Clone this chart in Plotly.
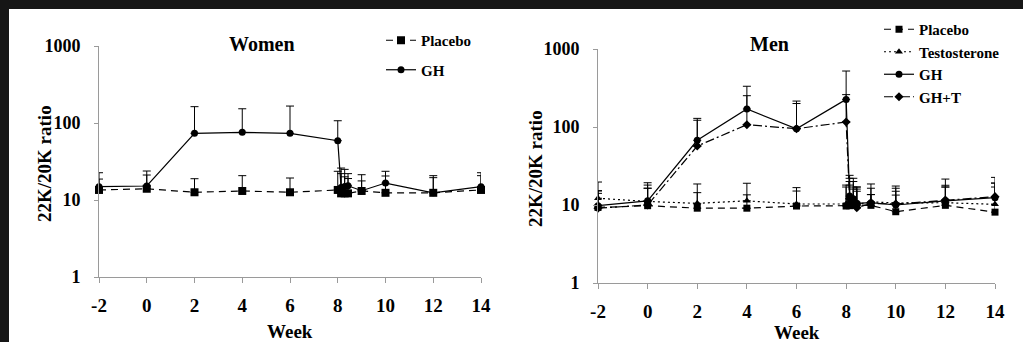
import plotly.graph_objects as go

# ---------------- data ----------------
weeks = [-2, 0, 2, 4, 6, 8, 8.14, 8.29, 8.43, 9, 10, 12, 14]
x_ticks = [-2, 0, 2, 4, 6, 8, 10, 12, 14]
x_ticktext = ["-2", "0", "2", "4", "6", "8", "10", "12", "14"]
y_ticks = [1, 10, 100, 1000]
y_ticktext = ["1", "10", "100", "1000"]

women_placebo = [13.5, 14.0, 12.6, 13.1, 12.6, 13.5, 12.2, 12.2, 12.2, 13.1, 12.4, 12.4, 13.5]
women_placebo_upper = [18.7, 21.1, 18.9, 20.7, 19.3, 23.6, 22.0, 20.0, 19.0, 17.7, 20.5, 19.5, 20.7]
women_gh = [14.9, 15.2, 73.5, 75.7, 73.5, 58.9, 14.5, 15.0, 15.3, 13.2, 16.6, 12.4, 14.9]
women_gh_upper = [22.6, 23.8, 163, 153, 166, 107, 26.0, 25.0, 22.0, 21.3, 23.6, 20.7, 22.6]

men_placebo = [9.3, 9.8, 9.1, 9.1, 9.7, 9.7, 9.8, 10.0, 10.0, 9.9, 8.2, 9.9, 8.1]
men_placebo_upper = [14.1, 16.4, 14.4, 13.5, 15.1, 17.0, 18.0, 16.0, 15.0, 13.6, 13.4, 17.0, 17.0]
men_testo = [12.2, 11.1, 10.5, 11.3, 10.3, 10.3, 11.0, 10.5, 10.2, 11.0, 10.6, 10.7, 10.2]
men_testo_upper = [15.3, 18.0, 18.6, 19.0, 16.7, 18.0, 20.0, 17.0, 16.0, 16.4, 15.0, 17.9, 19.1]
men_gh = [9.8, 11.3, 67.5, 170, 95, 226, 13.0, 12.0, 10.5, 10.7, 10.0, 11.3, 12.4]
men_gh_upper = [19.7, 19.3, 129, 333, 215, 522, 24.0, 22.0, 17.0, 18.6, 17.5, 21.5, 22.6]
men_ght = [9.1, 10.0, 57, 107, 95, 116, 12.0, 11.0, 9.2, 10.5, 10.3, 11.6, 12.8]
men_ght_upper = [15.1, 16.4, 122, 252, 200, 260, 22.0, 20.0, 17.0, 13.6, 16.4, 17.0, 19.1]

FONT = "Liberation Serif"
W, H = 1023, 342


def px_x(p):
    return p / W


def px_y(p):
    return 1 - p / H


def err(vals, upper):
    return dict(type="data", symmetric=False,
                array=[u - v for u, v in zip(upper, vals)],
                arrayminus=[0] * len(vals),
                color="black", thickness=1, width=4)


fig = go.Figure()

series = [
    # (name, y, upper, dash, symbol, size, xaxis, yaxis, legend)
    ("Placebo", women_placebo, women_placebo_upper, "7px,5px", "square", 8, "x", "y", "legend"),
    ("GH", women_gh, women_gh_upper, "solid", "circle", 7, "x", "y", "legend"),
    ("Placebo", men_placebo, men_placebo_upper, "7px,5px", "square", 7, "x2", "y2", "legend2"),
    ("Testosterone", men_testo, men_testo_upper, "2px,3px", "triangle-up", 7, "x2", "y2", "legend2"),
    ("GH", men_gh, men_gh_upper, "solid", "circle", 7, "x2", "y2", "legend2"),
    ("GH+T", men_ght, men_ght_upper, "9px,3px,2px,3px", "diamond", 7, "x2", "y2", "legend2"),
]

for i, (name, yv, up, dash, sym, size, xa, ya, leg) in enumerate(series):
    fig.add_trace(go.Scatter(
        x=weeks, y=yv, name=name, mode="lines+markers",
        line=dict(color="black", width=1.2, dash=dash),
        marker=dict(symbol=sym, size=size, color="black"),
        error_y=err(yv, up),
        xaxis=xa, yaxis=ya, legend=leg, legendgroup=f"g{i}",
        cliponaxis=False,
    ))

base = dict(showline=True, linecolor="#9a9a9a", linewidth=1,
            ticks="outside", tickcolor="#9a9a9a", automargin=False,
            showgrid=False, zeroline=False)
xtf = dict(family=FONT, size=19, color="black", weight="bold")
ytf = dict(family=FONT, size=18, color="black", weight="bold")

fig.update_layout(
    template="none",
    width=W, height=H,
    margin=dict(l=0, r=0, t=0, b=0, pad=0, autoexpand=False),
    paper_bgcolor="#161616",
    plot_bgcolor="white",
    showlegend=True,
    font=dict(family=FONT, color="black", weight="bold"),
    xaxis=dict(domain=[px_x(99), px_x(481)], range=[-2, 14], tickvals=x_ticks,
               ticktext=x_ticktext, ticklen=5, ticklabelstandoff=6, anchor="y",
               tickfont=xtf, **base),
    yaxis=dict(domain=[px_y(277), px_y(46)], type="log", range=[0, 3],
               tickvals=y_ticks, ticktext=y_ticktext, ticklen=4, ticklabelstandoff=10,
               anchor="x", tickfont=ytf, **base),
    xaxis2=dict(domain=[px_x(598), px_x(995)], range=[-2, 14], tickvals=x_ticks,
                ticktext=x_ticktext, ticklen=5, ticklabelstandoff=6, anchor="y2",
                tickfont=xtf, **base),
    yaxis2=dict(domain=[px_y(283), px_y(49)], type="log", range=[0, 3],
                tickvals=y_ticks, ticktext=y_ticktext, ticklen=4, ticklabelstandoff=10,
                anchor="x2", tickfont=ytf, **base),
    legend=dict(x=px_x(381), y=px_y(24), xanchor="left", yanchor="top",
                bgcolor="rgba(0,0,0,0)", borderwidth=0, traceorder="grouped",
                tracegroupgap=7,
                font=dict(family=FONT, size=15, color="black", weight="bold")),
    legend2=dict(x=px_x(879), y=px_y(13), xanchor="left", yanchor="top",
                 bgcolor="rgba(0,0,0,0)", borderwidth=0, traceorder="grouped",
                 tracegroupgap=0,
                 font=dict(family=FONT, size=15, color="black", weight="bold")),
    shapes=[dict(type="rect", xref="paper", yref="paper", layer="below",
                 x0=px_x(9), x1=1, y0=0, y1=px_y(9),
                 fillcolor="white", line=dict(width=0))],
)

ann_font = dict(family=FONT, color="black", weight="bold")
annotations = [
    dict(text="Women", x=px_x(262), y=px_y(44), size=20),
    dict(text="Men", x=px_x(769), y=px_y(44), size=20),
    dict(text="Week", x=px_x(290), y=px_y(331), size=19),
    dict(text="Week", x=px_x(797), y=px_y(332), size=19),
]
for a in annotations:
    fig.add_annotation(text=a["text"], x=a["x"], y=a["y"], xref="paper", yref="paper",
                       xanchor="center", yanchor="middle", showarrow=False,
                       font=dict(size=a["size"], **ann_font))
for xc, yc in [(44, 164), (535, 169)]:
    fig.add_annotation(text="22K/20K ratio", x=px_x(xc), y=px_y(yc), xref="paper", yref="paper",
                       xanchor="center", yanchor="middle", showarrow=False, textangle=-90,
                       font=dict(size=19, **ann_font))

fig.write_html("out.html")
